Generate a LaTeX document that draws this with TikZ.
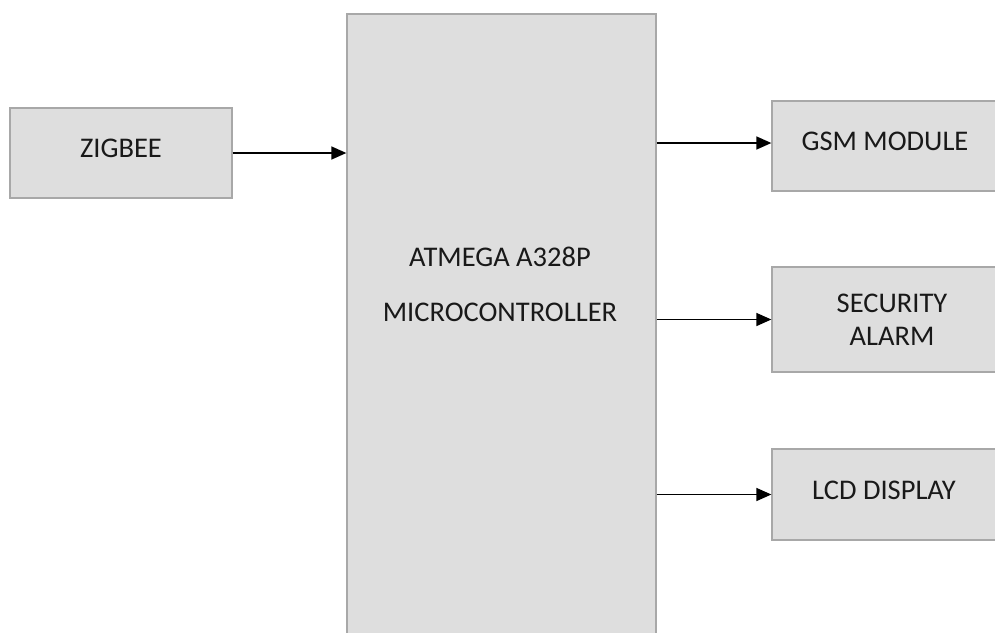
\documentclass[tikz,border=0pt]{standalone}
\usepackage{fontspec}
\setmainfont{Carlito}
\usetikzlibrary{positioning}
\usetikzlibrary{arrows.meta}
\definecolor{boxfill}{HTML}{DEDEDE}
\definecolor{boxline}{HTML}{A8A8A8}
\tikzset{
    block/.style = {rectangle, draw=boxline, line width=1.3pt, fill=boxfill, inner sep=0pt, align=center, text=black!90, font=\fontsize{28.5}{33}\selectfont},
    blockup/.style = {block, text depth=9pt}, % single line sits a bit high
    edgen/.style = {-{Triangle[length=15pt,width=13pt]}, line width=1.5pt, black}
}
\begin{document}
\begin{tikzpicture}[x=1pt,y=-1pt]
\clip (0,0) rectangle (995,632);
%
\node[blockup, minimum width=222pt, minimum height=90pt] at (121,153) (zb) {ZIGBEE};
\node[block, minimum width=309pt, minimum height=640pt] at (501.5,334) (mcu) {};
\node[align=center, text=black!90, font=\fontsize{28.5}{33}\selectfont] at (500,284) (mcutext) {ATMEGA A328P\\[22pt]MICROCONTROLLER};
\node[blockup, minimum width=240pt, minimum height=90pt] at (892,146) (gsm) {GSM MODULE\hspace{14pt}};
\node[block, minimum width=240pt, minimum height=105pt] at (892,319.5) (alarm) {SECURITY\\ALARM\hspace{0pt}};
\node[blockup, minimum width=240pt, minimum height=91pt] at (892,494.5) (lcd) {LCD DISPLAY\hspace{16pt}};
%
\draw[edgen] (zb) -- (zb -| mcu.west);
\draw[edgen] ([yshift=3pt]mcu.east |- gsm) -- ([yshift=3pt]gsm.west);
\draw[edgen] (mcu.east |- alarm) -- (alarm);
\draw[edgen] (mcu.east |- lcd) -- (lcd);
\end{tikzpicture}
\end{document}
